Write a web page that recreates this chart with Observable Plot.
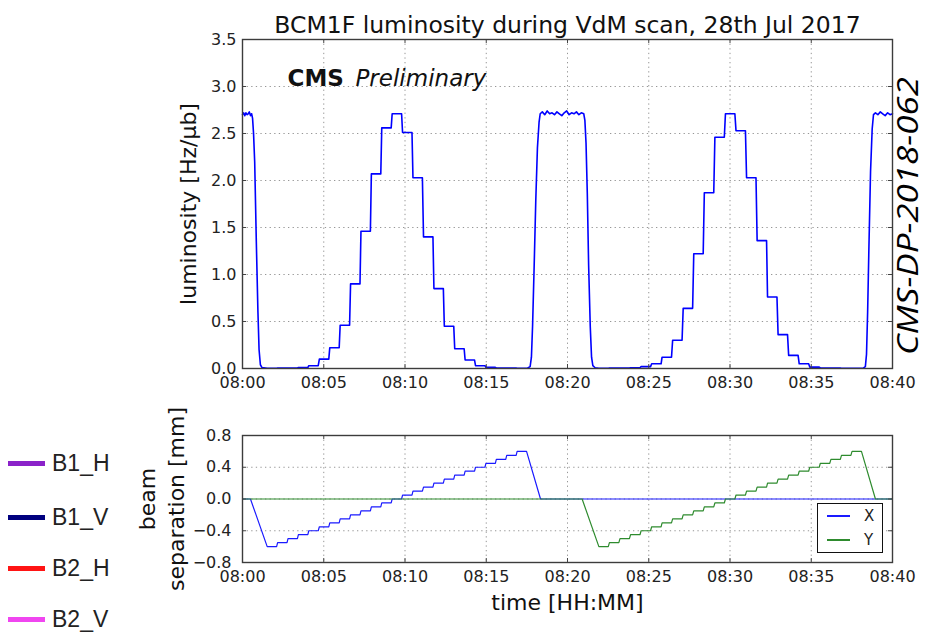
<!DOCTYPE html>
<html><head><meta charset="utf-8">
<script src="https://cdn.jsdelivr.net/npm/d3@7"></script>
<script src="https://cdn.jsdelivr.net/npm/@observablehq/plot@0.6"></script>
<style>
body{margin:0;background:#fff;}
#wrap{position:relative;width:935px;height:635px;overflow:hidden;font-family:"DejaVu Sans",sans-serif;}
#wrap svg{position:absolute;left:0;}
.beam{position:absolute;left:8px;height:26px;display:flex;align-items:center;font-family:"Liberation Sans",Arial,sans-serif;font-size:23px;color:#222;white-space:nowrap;}
.beam i{display:inline-block;width:37px;height:5px;margin-right:7px;}
#xy{position:absolute;left:817px;top:503px;width:64px;height:48px;border:1.3px solid #111;background:#fff;font-family:"DejaVu Sans",sans-serif;font-size:15px;color:#222;}
#xy div{position:absolute;left:0;height:20px;width:64px;display:flex;align-items:center;}
#xy i{display:inline-block;width:23px;height:1.3px;margin-left:9px;margin-right:14px;}
</style></head>
<body><div id="wrap"></div>
<script>
// ---------- data ----------
const timeTicks = [0, 5, 10, 15, 20, 25, 30, 35, 40];
const timeTickLabels = ["08:00", "08:05", "08:10", "08:15", "08:20", "08:25", "08:30", "08:35", "08:40"];
const lumTicks = [0, 0.5, 1, 1.5, 2, 2.5, 3, 3.5];
const lumTickLabels = ["0.0", "0.5", "1.0", "1.5", "2.0", "2.5", "3.0", "3.5"];
const sepTicks = [-0.8, -0.4, 0, 0.4, 0.8];
const sepTickLabels = ["\u22120.8", "\u22120.4", "0.0", "0.4", "0.8"];

// scan step start times (minutes after 08:00)
const scanXStepTimes = [1.52, 2.16, 2.80, 3.44, 4.08, 4.73, 5.37, 6.01, 6.65, 7.29, 7.93, 8.57, 9.21, 9.85, 10.49, 11.14, 11.78, 12.42, 13.06, 13.70, 14.34, 14.98, 15.62, 16.26, 16.90];
const scanYStepTimes = [21.93, 22.58, 23.23, 23.88, 24.53, 25.18, 25.82, 26.47, 27.12, 27.77, 28.42, 29.07, 29.72, 30.37, 31.02, 31.67, 32.31, 32.96, 33.61, 34.26, 34.91, 35.56, 36.21, 36.86, 37.51];
const separationSteps = [-0.60, -0.55, -0.50, -0.45, -0.40, -0.35, -0.30, -0.25, -0.20, -0.15, -0.10, -0.05, 0.00, 0.05, 0.10, 0.15, 0.20, 0.25, 0.30, 0.35, 0.40, 0.45, 0.50, 0.55, 0.60];
const lumScanX = [0.003, 0.004, 0.006, 0.010, 0.03, 0.10, 0.22, 0.46, 0.90, 1.46, 2.07, 2.56, 2.71, 2.51, 2.03, 1.40, 0.85, 0.45, 0.21, 0.09, 0.03, 0.012, 0.006, 0.004, 0.003];
const lumScanY = [0.003, 0.004, 0.005, 0.008, 0.02, 0.05, 0.12, 0.30, 0.64, 1.22, 1.87, 2.46, 2.71, 2.53, 2.03, 1.36, 0.76, 0.36, 0.14, 0.05, 0.015, 0.006, 0.004, 0.003, 0.003];

// head-on periods and edges of the luminosity
const lumHeadOn1T = [0, 0.07, 0.14, 0.21, 0.28, 0.35, 0.42, 0.49, 0.56, 0.62, 0.68, 0.75, 0.85, 0.95, 1.02, 1.10, 1.20];
const lumHeadOn1V = [2.70, 2.72, 2.69, 2.72, 2.70, 2.71, 2.73, 2.69, 2.71, 2.66, 2.50, 2.20, 1.35, 0.60, 0.20, 0.04, 0.01];
const lumHeadOn2T = [17.55, 17.70, 17.78, 17.85, 17.95, 18.05, 18.15, 18.25, 18.32, 18.45, 18.60, 18.75, 18.90, 19.05, 19.20, 19.35, 19.50, 19.65, 19.80, 19.95, 20.10, 20.25, 20.40, 20.55, 20.70, 20.85, 21.00, 21.07, 21.14, 21.22, 21.30, 21.40, 21.48, 21.56, 21.70];
const lumHeadOn2V = [0.005, 0.02, 0.12, 0.45, 1.10, 1.80, 2.35, 2.62, 2.71, 2.73, 2.70, 2.74, 2.71, 2.72, 2.70, 2.73, 2.71, 2.69, 2.72, 2.74, 2.70, 2.72, 2.71, 2.73, 2.70, 2.72, 2.71, 2.64, 2.40, 1.85, 1.10, 0.45, 0.12, 0.03, 0.008];
const lumHeadOn3T = [38.20, 38.33, 38.40, 38.47, 38.55, 38.65, 38.75, 38.83, 38.95, 39.10, 39.25, 39.40, 39.55, 39.70, 39.85, 40.00];
const lumHeadOn3V = [0.004, 0.02, 0.15, 0.60, 1.30, 2.10, 2.55, 2.70, 2.72, 2.70, 2.73, 2.71, 2.69, 2.72, 2.70, 2.71];

// separation outside the scans
const sepXPreT = [0, 0.49], sepXPreV = [0, 0];
const sepXPostT = [18.34, 40], sepXPostV = [0, 0];
const sepYPreT = [0, 20.9], sepYPreV = [0, 0];
const sepYPostT = [38.95, 40], sepYPostV = [0, 0];

const beamNames = ["B1_H", "B1_V", "B2_H", "B2_V"];
const beamColors = ["#8b22c9", "#00007f", "#ff1414", "#f046f0"];
const sepSeries = ["X", "Y"];
const sepColors = ["#1a1aff", "#2e8b2e"];

// ---------- build tables ----------
const dwell = 0.58;
const pts = (T, V) => T.map((t, i) => ({t, v: V[i]}));
const steps = (T, V) => T.flatMap((t, i) => [{t, v: V[i]}, {t: t + dwell, v: V[i]}]);
const lumData = [
  ...pts(lumHeadOn1T, lumHeadOn1V),
  ...steps(scanXStepTimes, lumScanX),
  ...pts(lumHeadOn2T, lumHeadOn2V),
  ...steps(scanYStepTimes, lumScanY),
  ...pts(lumHeadOn3T, lumHeadOn3V)
];
const sepX = [...pts(sepXPreT, sepXPreV), ...steps(scanXStepTimes, separationSteps), ...pts(sepXPostT, sepXPostV)];
const sepY = [...pts(sepYPreT, sepYPreV), ...steps(scanYStepTimes, separationSteps), ...pts(sepYPostT, sepYPostV)];

const tLabel = d => timeTickLabels[timeTicks.indexOf(d)];
const lLabel = d => lumTickLabels[lumTicks.indexOf(d)];
const sLabel = d => sepTickLabels[sepTicks.indexOf(d)];

const gridStyle = {stroke: "#8a8a8a", strokeOpacity: 1, strokeWidth: 0.9, strokeDasharray: "1.3,3.3"};
const tickStyle = {stroke: "#444", strokeWidth: 1};
const baseStyle = {fontFamily: "DejaVu Sans", fontSize: "16px", color: "#222", background: "transparent", overflow: "visible"};

function innerTicks(xt, yt, w, h) {
  return [
    Plot.tickX(xt, {x: d => d, insetTop: h - 4, ...tickStyle}),
    Plot.tickX(xt, {x: d => d, insetBottom: h - 4, ...tickStyle}),
    Plot.tickY(yt, {y: d => d, insetRight: w - 4, ...tickStyle}),
    Plot.tickY(yt, {y: d => d, insetLeft: w - 4, ...tickStyle})
  ];
}

// ---------- top plot ----------
const topPlot = Plot.plot({
  width: 935, height: 395,
  marginLeft: 242, marginRight: 43, marginTop: 39, marginBottom: 27,
  style: baseStyle,
  x: {domain: [0, 40]},
  y: {domain: [0, 3.5]},
  marks: [
    Plot.gridX(timeTicks, gridStyle),
    Plot.gridY(lumTicks, gridStyle),
    Plot.line(lumData, {x: "t", y: "v", stroke: "#0000ff", strokeWidth: 1.6}),
    ...innerTicks(timeTicks, lumTicks, 650, 329),
    Plot.frame({stroke: "#3c3c3c", strokeWidth: 1.4}),
    Plot.axisX(timeTicks, {tickSize: 0, tickPadding: 8, tickFormat: tLabel, label: null, fontSize: 16}),
    Plot.axisY(lumTicks, {tickSize: 0, tickPadding: 6, tickFormat: lLabel, label: null, fontSize: 16}),
    Plot.text(["BCM1F luminosity during VdM scan, 28th Jul 2017"], {frameAnchor: "top", textAnchor: "middle", lineAnchor: "bottom", dy: -7, fontSize: 23.5, fill: "#111"}),
    Plot.text(["CMS"], {frameAnchor: "top-left", textAnchor: "start", lineAnchor: "bottom", dx: 45, dy: 46, fontSize: 23, fontWeight: "bold", fill: "#111"}),
    Plot.text(["Preliminary"], {frameAnchor: "top-left", textAnchor: "start", lineAnchor: "bottom", dx: 113, dy: 46, fontSize: 23, fontStyle: "italic", fill: "#111"}),
    Plot.text(["luminosity [Hz/\u03bcb]"], {frameAnchor: "left", textAnchor: "middle", rotate: -90, lineAnchor: "middle", dx: -54, fontSize: 22, fill: "#111"}),
    Plot.text(["CMS-DP-2018-062"], {frameAnchor: "right", textAnchor: "middle", rotate: -90, lineAnchor: "bottom", dx: 25, dy: 12, fontSize: 30, fontFamily: "Open Sans", fontStyle: "italic", fill: "#000", className: "dpnote"})
  ]
});
topPlot.style.top = "0px";
// stretch the document number to the reference length
topPlot.querySelectorAll(".dpnote text").forEach(t => {
  t.setAttribute("textLength", 278);
  t.setAttribute("lengthAdjust", "spacingAndGlyphs");
});

// ---------- bottom plot ----------
const botPlot = Plot.plot({
  width: 935, height: 240,
  marginLeft: 242, marginRight: 43, marginTop: 40, marginBottom: 73,
  style: baseStyle,
  x: {domain: [0, 40]},
  y: {domain: [-0.8, 0.8]},
  marks: [
    Plot.gridX(timeTicks, gridStyle),
    Plot.gridY(sepTicks, gridStyle),
    Plot.line(sepX, {x: "t", y: "v", stroke: sepColors[0], strokeWidth: 1.2}),
    Plot.line(sepY, {x: "t", y: "v", stroke: sepColors[1], strokeWidth: 1.2}),
    ...innerTicks(timeTicks, sepTicks, 650, 127),
    Plot.frame({stroke: "#3c3c3c", strokeWidth: 1.4}),
    Plot.axisX(timeTicks, {tickSize: 0, tickPadding: 8, tickFormat: tLabel, label: null, fontSize: 16}),
    Plot.axisY(sepTicks, {tickSize: 0, tickPadding: 11, tickFormat: sLabel, label: null, fontSize: 16}),
    Plot.text(["time [HH:MM]"], {frameAnchor: "bottom", textAnchor: "middle", lineAnchor: "bottom", dy: 47, fontSize: 22, fill: "#111"}),
    Plot.text(["beam\nseparation [mm]"], {frameAnchor: "left", textAnchor: "middle", rotate: -90, lineAnchor: "middle", lineHeight: 1.3, dx: -82, fontSize: 22, fill: "#111"})
  ]
});
botPlot.style.top = "395px";

const wrap = document.getElementById("wrap");
wrap.appendChild(topPlot);
wrap.appendChild(botPlot);

// beam legend (left)
const beamY = [463, 517, 568, 619];
beamNames.forEach((n, i) => {
  const d = document.createElement("div");
  d.className = "beam";
  d.style.top = (beamY[i] - 13) + "px";
  d.innerHTML = `<i style="background:${beamColors[i]}"></i>${n}`;
  wrap.appendChild(d);
});

// X / Y legend box
const box = document.createElement("div");
box.id = "xy";
sepSeries.forEach((n, i) => {
  const d = document.createElement("div");
  d.style.top = (2 + i * 24) + "px";
  d.innerHTML = `<i style="background:${sepColors[i]}"></i>${n}`;
  box.appendChild(d);
});
wrap.appendChild(box);
</script></body></html>
